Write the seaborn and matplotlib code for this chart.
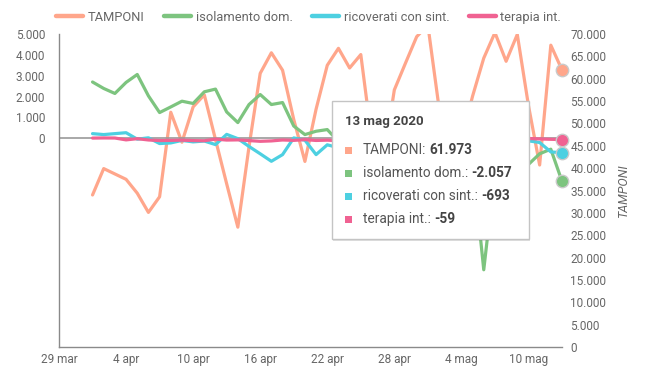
import pandas as pd
import matplotlib
matplotlib.use("Agg")
import matplotlib.pyplot as plt
from matplotlib.patches import Rectangle
from matplotlib.lines import Line2D
import seaborn as sns

# ── data: daily changes, 1 Apr - 13 May 2020 ──────────────────────────────────
dates = pd.date_range("2020-04-01", "2020-05-13", freq="D")

tamponi = [34000, 39900, 38700, 37500, 34400, 30100, 33600, 52500, 45800, 53700,
           56400, 46400, 36500, 26800, 44800, 61200, 65800, 61900, 50900, 41500,
           53200, 63000, 66800, 62400, 65400, 46000, 41500, 57500, 63500, 69400, 72000, 53500,
           44900, 46300, 56100, 64600, 70300, 63900, 69900, 54000, 40700, 67500, 61973]

isolamento = [2700, 2390, 2150, 2680, 3060, 2035, 1235, 1505, 1780, 1670,
              2230, 2360, 1265, 755, 1620, 2100, 1620, 1715, 590, 180,
              340, 420, -150, 300, -450, 150, -250, -900, -600, -1400, -800, -500,
              -300, -200, -1100, -6300, -1600, -1200, -1900, -1250, -740, -520, -2057]

ricoverati = [225, 180, 225, 270, -40, 25, -250, -220, -100, -170,
              -130, -300, 190, -15, -390, -740, -1100, -780, 20, -90,
              -780, -310, -450, -600, -420, -300, -150, -600, -500, -800, -550, -300,
              -350, -250, -500, -1000, -550, -650, -400, -120, -200, -650, -693]

terapia = [12, 18, 15, -74, -17, -79, -106, -99, -88, -108,
           -116, -38, -83, -74, -107, -143, -124, -79, -98, -62,
           -102, -87, -117, -94, -71, -93, -53, -93, -68, -101, -116, -39,
           -38, -22, -52, -94, -22, -143, -134, -7, -28, -47, -59]

names = ["TAMPONI", "isolamento dom.", "ricoverati con sint.", "terapia int."]
colors = ["#FFA68B", "#7DC47F", "#4DD0E1", "#F06292"]

x_ticks = pd.date_range("2020-03-29", "2020-05-10", freq="6D")
left_ticks = [0, 1000, 2000, 3000, 4000, 5000]
right_ticks = list(range(0, 70001, 5000))
MESI = {3: "mar", 4: "apr", 5: "mag"}

tooltip_title = "13 mag 2020"
tooltip_values = ["61.973", "-2.057", "-693", "-59"]

df = pd.DataFrame({"data": dates, names[0]: tamponi, names[1]: isolamento,
                   names[2]: ricoverati, names[3]: terapia})

# ── figure ────────────────────────────────────────────────────────────────────
sns.set_theme(style="white")
plt.rcParams["font.family"] = ["Roboto", "DejaVu Sans"]

W, H = 647, 380
fig = plt.figure(figsize=(W / 100, H / 100), dpi=100)
ax = fig.add_axes([59 / W, 33 / H, (562 - 59) / W, (347 - 34) / H])
ax2 = ax.twinx()
ax.set_zorder(ax2.get_zorder() + 1)
ax.patch.set_visible(False)

def thousands(v):
    return f"{int(v):,}".replace(",", ".")

ax.axhline(0, color="#9a9a9a", lw=1.2, zorder=0.5)

sns.lineplot(data=df, x="data", y=names[0], ax=ax2, color=colors[0], lw=2.3)
sns.scatterplot(data=df.tail(1), x="data", y=names[0], ax=ax2, color=colors[0],
                s=80, edgecolor="#c9c9c9", linewidth=1, zorder=5, clip_on=False)
for name, c in zip(names[1:], colors[1:]):
    sns.lineplot(data=df, x="data", y=name, ax=ax, color=c, lw=2.3)
    sns.scatterplot(data=df.tail(1), x="data", y=name, ax=ax, color=c,
                    s=80, edgecolor="#c9c9c9", linewidth=1, zorder=5, clip_on=False)

ax.set_xlim(pd.Timestamp("2020-03-29"), pd.Timestamp("2020-05-13"))
ax.set_xticks(x_ticks)
ax.set_xticklabels([f"{d.day} {MESI[d.month]}" for d in x_ticks])

ax.set_ylim(-10000, 5000)
ax.set_yticks(left_ticks)
ax.set_yticklabels([thousands(v) for v in left_ticks])
ax2.set_ylim(0, 70000)
ax2.set_yticks(right_ticks)
ax2.set_yticklabels([thousands(v) for v in right_ticks])

ax.set_xlabel("")
ax.set_ylabel("")
ax2.set_xlabel("")
ax2.set_ylabel("TAMPONI", fontstyle="italic", color="#666666", fontsize=9, labelpad=8)

ax.tick_params(axis="x", length=0, labelsize=8.5, labelcolor="#666666", pad=4)
ax.tick_params(axis="y", length=0, labelsize=8.5, labelcolor="#666666", pad=10)
ax2.tick_params(axis="y", length=0, labelsize=8.5, labelcolor="#666666", pad=6)

for s in ["top", "right"]:
    ax.spines[s].set_visible(False)
for s in ax2.spines.values():
    s.set_visible(False)
for s in ["left", "bottom"]:
    ax.spines[s].set_color("#8a8a8a")
    ax.spines[s].set_linewidth(1)

handles = [Line2D([0], [0], color=c, lw=3.2) for c in colors]
fig.legend(handles, names, loc="center", bbox_to_anchor=(0.477, 0.955), ncol=4,
           frameon=False, fontsize=9.3, handlelength=2.1, columnspacing=1.5,
           handletextpad=0.35, labelcolor="#666666")

# ── tooltip ───────────────────────────────────────────────────────────────────
def px(x, y):
    return x / W, 1 - y / H

bx0, by0, bx1, by1 = 332, 101, 529, 239
fig.add_artist(Rectangle(px(bx0 + 1, by1 + 2), (bx1 - bx0) / W, (by1 - by0) / H,
                         transform=fig.transFigure, facecolor="#000000", alpha=0.12,
                         edgecolor="none", zorder=9))
fig.add_artist(Rectangle(px(bx0, by1), (bx1 - bx0) / W, (by1 - by0) / H,
                         transform=fig.transFigure, facecolor="white",
                         edgecolor="#c4c4c4", lw=1, zorder=10))
fig.text(*px(345, 122), tooltip_title, fontsize=9.5, fontweight="bold",
         color="#444444", va="center", ha="left", zorder=11)

renderer = fig.canvas.get_renderer()
for i, (name, c, val) in enumerate(zip(names, colors, tooltip_values)):
    yy = 150 + i * 23
    fig.add_artist(Rectangle(px(345, yy + 3.5), 7 / W, 7 / H, transform=fig.transFigure,
                             facecolor=c, edgecolor="none", zorder=11))
    t = fig.text(*px(363, yy), name + ":", fontsize=9.8, color="#555555",
                 va="center", ha="left", zorder=11)
    bb = t.get_window_extent(renderer)
    fig.text((bb.x1 + 3) / fig.bbox.width, 1 - yy / H, val, fontsize=9.8,
             fontweight="bold", color="#444444", va="center", ha="left", zorder=11)

fig.savefig("out.png", dpi=100)
plt.close(fig)
